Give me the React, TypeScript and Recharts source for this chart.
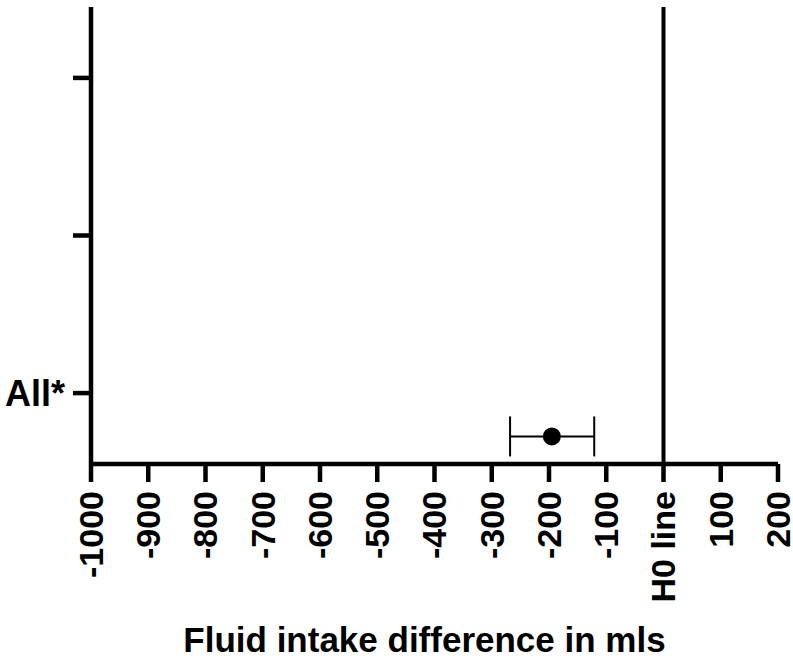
import { ScatterChart, Scatter, XAxis, YAxis, ReferenceLine, ErrorBar } from 'recharts';

// x axis ticks (mls), 0 is drawn as the H0 line
const xTicks = [-1000, -900, -800, -700, -600, -500, -400, -300, -200, -100, 0, 100, 200];
// y axis rows, only the bottom one is named
const yTicks = [1, 2, 3];
const yLabels = ['All*', '', ''];

// the one estimate with its confidence interval
const groups = ['All*'];
const means = [-195];
const lowErr = [73];
const highErr = [74];
const rows = [0.725];

const data = groups.map((g, i) => ({
  name: g,
  x: means[i],
  y: rows[i],
  err: [lowErr[i], highErr[i]],
}));

const FONT = '"Liberation Sans", Arial, Helvetica, sans-serif';

function XTick(props: any) {
  const { x, y, payload } = props;
  const label = payload.value === 0 ? 'H0 line' : String(payload.value);
  return (
    <g transform={`translate(${x},${y})`}>
      <text
        transform="rotate(-90)"
        x={-9}
        y={0}
        dy="0.35em"
        textAnchor="end"
        fontFamily={FONT}
        fontWeight="bold"
        fontSize={34}
        fill="#000"
      >
        {label}
      </text>
    </g>
  );
}

function YTick(props: any) {
  const { x, y, payload } = props;
  const idx = yTicks.indexOf(payload.value);
  return (
    <text
      x={x}
      y={y}
      dy="0.36em"
      textAnchor="end"
      fontFamily={FONT}
      fontWeight="bold"
      fontSize={36}
      fill="#000"
    >
      {yLabels[idx]}
    </text>
  );
}

function Dot(props: any) {
  return <circle cx={props.cx} cy={props.cy} r={9} fill="#000" />;
}

function AxisTitle(props: any) {
  const vb = props.viewBox;
  return (
    <text
      x={vb.x + vb.width / 2 - 10}
      y={652}
      textAnchor="middle"
      fontFamily={FONT}
      fontWeight="bold"
      fontSize={35}
      fill="#000"
    >
      Fluid intake difference in mls
    </text>
  );
}

export default function App() {
  return (
    <div style={{ position: 'absolute', left: 0, top: 0, background: '#fff' }}>
      <ScatterChart
        width={793}
        height={658}
        margin={{ top: 7, right: 15, left: 11, bottom: 74 }}
      >
        <XAxis
          type="number"
          dataKey="x"
          domain={[-1000, 200]}
          ticks={xTicks}
          interval={0}
          tick={<XTick />}
          tickSize={18}
          tickMargin={0}
          height={120}
          axisLine={{ stroke: '#000', strokeWidth: 4.5 }}
          tickLine={{ stroke: '#000', strokeWidth: 4.5 }}
          label={<AxisTitle />}
        />
        <YAxis
          type="number"
          dataKey="y"
          domain={[0.55, 3.45]}
          ticks={yTicks}
          interval={0}
          tick={<YTick />}
          tickSize={18}
          tickMargin={8}
          width={80}
          axisLine={{ stroke: '#000', strokeWidth: 4.5 }}
          tickLine={{ stroke: '#000', strokeWidth: 4.5 }}
        />
        <ReferenceLine x={0} stroke="#000" strokeWidth={4} ifOverflow="extendDomain" />
        <Scatter data={data} shape={<Dot />} isAnimationActive={false}>
          <ErrorBar dataKey="err" direction="x" width={20} stroke="#000" strokeWidth={2} />
        </Scatter>
      </ScatterChart>
    </div>
  );
}
